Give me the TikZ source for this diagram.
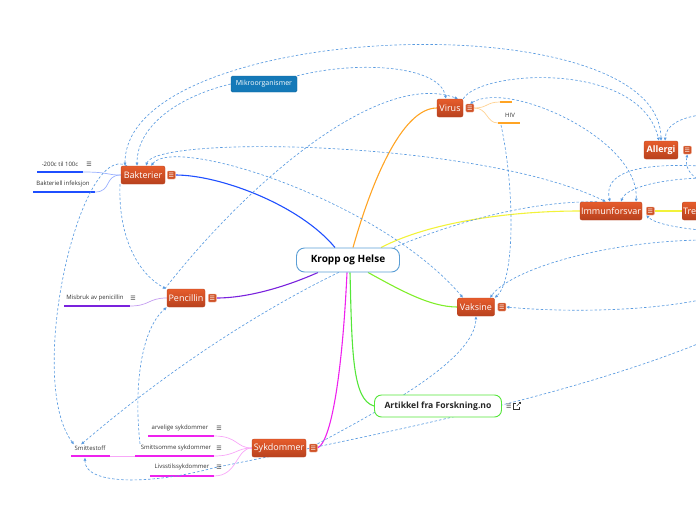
\documentclass[tikz,border=0pt]{standalone}
\usepackage{fontspec}
\setmainfont{Open Sans}
\newfontfamily\symfont{DejaVu Sans}
\usetikzlibrary{arrows.meta}
\usetikzlibrary{backgrounds}
\usetikzlibrary{positioning}

\definecolor{topiclight}{HTML}{E65C2C}
\definecolor{topicdark}{HTML}{B8411E}
\definecolor{relblue}{HTML}{5A9BE0}
\definecolor{mikroblue}{HTML}{1479B8}
\definecolor{kroppblue}{HTML}{5C9FD6}
\definecolor{bblue}{HTML}{1F4FFF}
\definecolor{vorange}{HTML}{FFA424}
\definecolor{iyellow}{HTML}{F2F23A}
\definecolor{vgreen}{HTML}{80EE2A}
\definecolor{agreen}{HTML}{55E63A}
\definecolor{smagenta}{HTML}{EE22EE}
\definecolor{ppurple}{HTML}{7A22DD}
\definecolor{leaftext}{HTML}{333333}

\tikzset{
  topic/.style={draw=topicdark, top color=topiclight, bottom color=topicdark, rounded corners=2pt,
    text=white, font=\fontsize{9}{11}\selectfont, inner sep=0pt, minimum height=18pt},
  note/.style={draw=topiclight!55!white, fill=topiclight!90!black, rounded corners=1pt, minimum size=8pt,
    inner sep=0pt, text=white, font=\symfont\fontsize{6}{6}\selectfont},
  centre/.style={draw=kroppblue, fill=white, rounded corners=8pt, line width=0.9pt, minimum width=103pt,
    minimum height=24pt, font=\bfseries\fontsize{10}{12}\selectfont},
  artbox/.style={draw=agreen, fill=white, rounded corners=7pt, line width=0.9pt, minimum width=127pt,
    minimum height=22pt, text=black!85, font=\bfseries\fontsize{8.6}{10}\selectfont},
  mikrobox/.style={fill=mikroblue, draw=mikroblue!85!black, rounded corners=1.5pt, text=white,
    minimum width=66pt, minimum height=16pt, inner sep=0pt, font=\fontsize{7}{8}\selectfont},
  leaf/.style={text=leaftext, font=\fontsize{6}{7}\selectfont, inner sep=1pt},
  leafnote/.style={text=leaftext, font=\symfont\fontsize{6}{6}\selectfont, inner sep=0pt},
  rel/.style={draw=relblue, dash pattern=on 2.5pt off 2pt, line width=0.65pt,
    -{Latex[length=3.2pt,width=3.2pt]}},
  relboth/.style={rel, {Latex[length=3.2pt,width=3.2pt]}-{Latex[length=3.2pt,width=3.2pt]}},
  branch/.style={line width=1.1pt},
  twig/.style={line width=0.7pt},
  under/.style={line width=1.4pt},
}

\begin{document}
\begin{tikzpicture}[x=1pt,y=-1pt]
    \useasboundingbox (0,0) rectangle (696,520);
    \clip (0,0) rectangle (696,520);

    % central topic
    \node[centre] (kropp) at (348,260) {Kropp og Helse};

    % topics
    \node[topic, minimum width=44pt] (bakt) at (143,175) {Bakterier};
    \node[note, right=2pt of bakt] (baktnote) {☰};
    \node[topic, minimum width=26pt] (virus) at (450,108) {Virus};
    \node[note, right=2.5pt of virus] (virusnote) {☰};
    \node[topic, minimum width=34pt, font=\bfseries\fontsize{9}{11}\selectfont] (allergi) at (661,150) {Allergi};
    \node[note, right=5pt of allergi] (allerginote) {☰};
    \node[topic, minimum width=62pt] (immun) at (611,211) {Immunforsvar};
    \node[note, right=4pt of immun] (immunnote) {☰};
    \node[topic, anchor=west, text width=34pt, inner xsep=1pt, align=left] (tre) at (682,211) {Tre};
    \node[topic, minimum width=37pt] (vaksine) at (476,307) {Vaksine};
    \node[note, right=3pt of vaksine] (vaksinenote) {☰};
    \node[topic, minimum width=38pt] (penc) at (186,298) {Pencillin};
    \node[note, right=3pt of penc] (pencnote) {☰};
    \node[topic, minimum width=54pt] (syk) at (279,448) {Sykdommer};
    \node[note, right=3pt of syk] (syknote) {☰};
    \node[mikrobox] (mikro) at (264,84) {Mikroorganismer};
    \node[artbox] (artikkel) at (438,406) {Artikkel fra Forskning.no};
    \node[leafnote, right=4pt of artikkel] (artnote) {☰};
    \coordinate[right=6pt of artnote] (artlink);
    \draw[leaftext, line width=0.5pt] (artlink) ++(-2,-3) -- ++(-2,0) -- ++(0,6) -- ++(6,0) -- ++(0,-2);
    \draw[leaftext, line width=0.5pt] (artlink) ++(-1,0) -- ++(4,-4);
    \draw[leaftext, line width=0.5pt] (artlink) ++(1,-4) -- ++(2,0) -- ++(0,2);

    % leaves
    \node[leaf] (temp) at (60,164) {-200c til 100c};
    \node[leafnote] (tempnote) at (89,164) {☰};
    \coordinate (tempL) at (37,172);
    \coordinate (tempR) at (83,172);
    \node[leaf] (infek) at (63,184) {Bakteriell infeksjon};
    \coordinate (infekL) at (33,192);
    \coordinate (infekR) at (95,192);
    \node[leaf] (misbruk) at (95,298) {Misbruk av penicillin};
    \node[leafnote] (misbruknote) at (133,298) {☰};
    \coordinate (misbrukL) at (64,306);
    \coordinate (misbrukR) at (130,306);
    \node[leaf] (arv) at (180,428) {arvelige sykdommer};
    \node[leafnote] (arvnote) at (219,428) {☰};
    \coordinate (arvL) at (148,436);
    \coordinate (arvR) at (214,436);
    \node[leaf] (smitts) at (176,448) {Smittsomme sykdommer};
    \node[leafnote] (smittsnote) at (219,448) {☰};
    \coordinate (smittsL) at (135,456);
    \coordinate (smittsR) at (214,456);
    \node[leaf] (livs) at (182,467) {Livsstilssykdommer};
    \node[leafnote] (livsnote) at (219,467) {☰};
    \coordinate (livsL) at (150,476);
    \coordinate (livsR) at (214,476);
    \node[leaf] (smit) at (90,448) {Smittestoff};
    \coordinate (smitL) at (71,456);
    \coordinate (smitR) at (110,456);
    \coordinate (vleafL) at (500,102);
    \coordinate (vleafR) at (512,102);
    \node[leaf] (hiv) at (510,115) {HIV};
    \coordinate (hivL) at (498,123);
    \coordinate (hivR) at (520,123);

    % ends of links that leave the picture
    \coordinate (offA) at (700,166);
    \coordinate (offA2) at (700,178);
    \coordinate (offB) at (700,115);
    \coordinate (offC) at (700,182);
    \coordinate (offD) at (700,230);
    \coordinate (offE) at (700,240);
    \coordinate (offF) at (700,300);
    \coordinate (offG) at (700,343);

    \begin{scope}[on background layer]
    \clip (0,0) rectangle (696,520);
    % branches
    \draw[branch, bblue] ([xshift=-13pt]kropp.north) .. controls (300,205) and (220,175) .. (baktnote.east);
    \draw[branch, vorange] ([xshift=5pt]kropp.north) .. controls (375,170) and (405,108) .. (virus.west);
    \draw[branch, iyellow] ([xshift=33pt]kropp.north) .. controls (430,222) and (510,211) .. (immun.west);
    \draw[branch, iyellow] (immunnote.east) -- (tre.west);
    \draw[branch, vgreen] ([xshift=20pt]kropp.south) .. controls (400,290) and (430,307) .. (vaksine.west);
    \draw[branch, agreen] ([xshift=2pt]kropp.south) .. controls (352,350) and (352,400) .. (artikkel.west);
    \draw[branch, smagenta] ([xshift=-1pt]kropp.south) .. controls (343,360) and (333,440) .. (syknote.east);
    \draw[branch, ppurple] ([xshift=-30pt]kropp.south) .. controls (290,285) and (250,298) .. (pencnote.east);

    % leaf lines
    \draw[under, bblue] (tempL) -- (tempR);
    \draw[twig, bblue!45] (tempR) .. controls (110,172) and (105,175) .. (bakt.west);
    \draw[under, bblue] (infekL) -- (infekR);
    \draw[twig, bblue!45] (infekR) .. controls (112,192) and (104,175) .. (bakt.west);
    \draw[under, ppurple] (misbrukL) -- (misbrukR);
    \draw[twig, ppurple!45] (misbrukR) .. controls (150,306) and (148,298) .. (penc.west);
    \draw[under, smagenta] (arvL) -- (arvR);
    \draw[twig, smagenta!40] (arvR) .. controls (238,436) and (236,448) .. (syk.west);
    \draw[under, smagenta] (smittsL) -- (smittsR);
    \draw[twig, smagenta!40] (smittsR) .. controls (236,456) and (236,448) .. (syk.west);
    \draw[under, smagenta] (livsL) -- (livsR);
    \draw[twig, smagenta!40] (livsR) .. controls (238,476) and (236,448) .. (syk.west);
    \draw[under, smagenta] (smitL) -- (smitR);
    \draw[twig, smagenta!40] (smitR) -- (smittsL);
    \draw[under, vorange] (vleafL) -- (vleafR);
    \draw[twig, vorange!50] (virusnote.east) .. controls (488,108) and (486,102) .. (vleafL);
    \draw[under, vorange] (hivL) -- (hivR);
    \draw[twig, vorange!50] (virusnote.east) .. controls (488,108) and (486,123) .. (hivL);

    % links
    \draw[rel] (mikro.north east) .. controls (360,60) and (440,66) .. ([xshift=-4pt]virus.north);
    \draw[rel] (mikro.west) .. controls (180,96) and (137,125) .. ([xshift=-6pt]bakt.north);
    \draw[relboth] ([xshift=-18pt]bakt.north) .. controls (125,20) and (660,0) .. (allergi.north);
    \draw[relboth] ([xshift=3pt]bakt.north) .. controls (155,135) and (480,140) .. ([xshift=-5pt]immun.north);
    \draw[relboth] ([xshift=8pt]bakt.north) .. controls (175,135) and (380,200) .. ([xshift=-13pt]vaksine.north);
    \draw[rel] ([xshift=-16pt]bakt.north) .. controls (80,140) and (25,380) .. ([xshift=-16pt]smit.north);
    \draw[rel] ([xshift=-23pt]bakt.south) .. controls (118,240) and (140,275) .. ([xshift=-20pt]penc.north);
    \draw[rel] ([xshift=-2pt]penc.north west) .. controls (250,180) and (380,70) .. ([xshift=8pt]virus.north);
    \draw[rel] (virus.north east) .. controls (480,70) and (640,60) .. ([xshift=-2pt]allergi.north);
    \draw[relboth] (virusnote.north) .. controls (510,80) and (640,140) .. ([xshift=25pt]immun.north);
    \draw[rel] ([xshift=3pt,yshift=-2pt]hivL) .. controls (515,190) and (515,280) .. (vaksine.north east);
    \draw[rel] (offA) .. controls (620,162) and (605,180) .. ([xshift=-1pt]immun.north);
    \draw[rel] (offA2) .. controls (650,180) and (625,190) .. ([xshift=10pt]immun.north);
    \draw[rel] (offB) .. controls (680,118) and (666,125) .. ([xshift=4pt]allergi.north);
    \draw[rel] (offC) .. controls (695,176) and (684,172) .. (allerginote.south);
    \draw[rel] (offD) .. controls (680,228) and (655,224) .. (immunnote.south west);
    \draw[rel] (offE) .. controls (600,242) and (510,270) .. ([xshift=14pt]vaksine.north);
    \draw[rel] (offF) .. controls (640,312) and (560,312) .. (vaksinenote.east);
    \draw[rel] ([xshift=-14pt]immun.north) .. controls (450,200) and (250,300) .. ([xshift=-9pt]smit.north);
    \draw[rel] ([xshift=-36pt]smitts.north) .. controls (134,390) and (140,330) .. (penc.south west);
    \draw[rel] (syknote.north east) .. controls (380,410) and (475,360) .. (vaksine.south);
    \draw[rel] (offG) .. controls (560,400) and (350,440) .. (213,468)
      .. controls (150,485) and (84,485) .. ([xshift=-5pt,yshift=-6pt]smit.south);
    \end{scope}
\end{tikzpicture}
\end{document}
